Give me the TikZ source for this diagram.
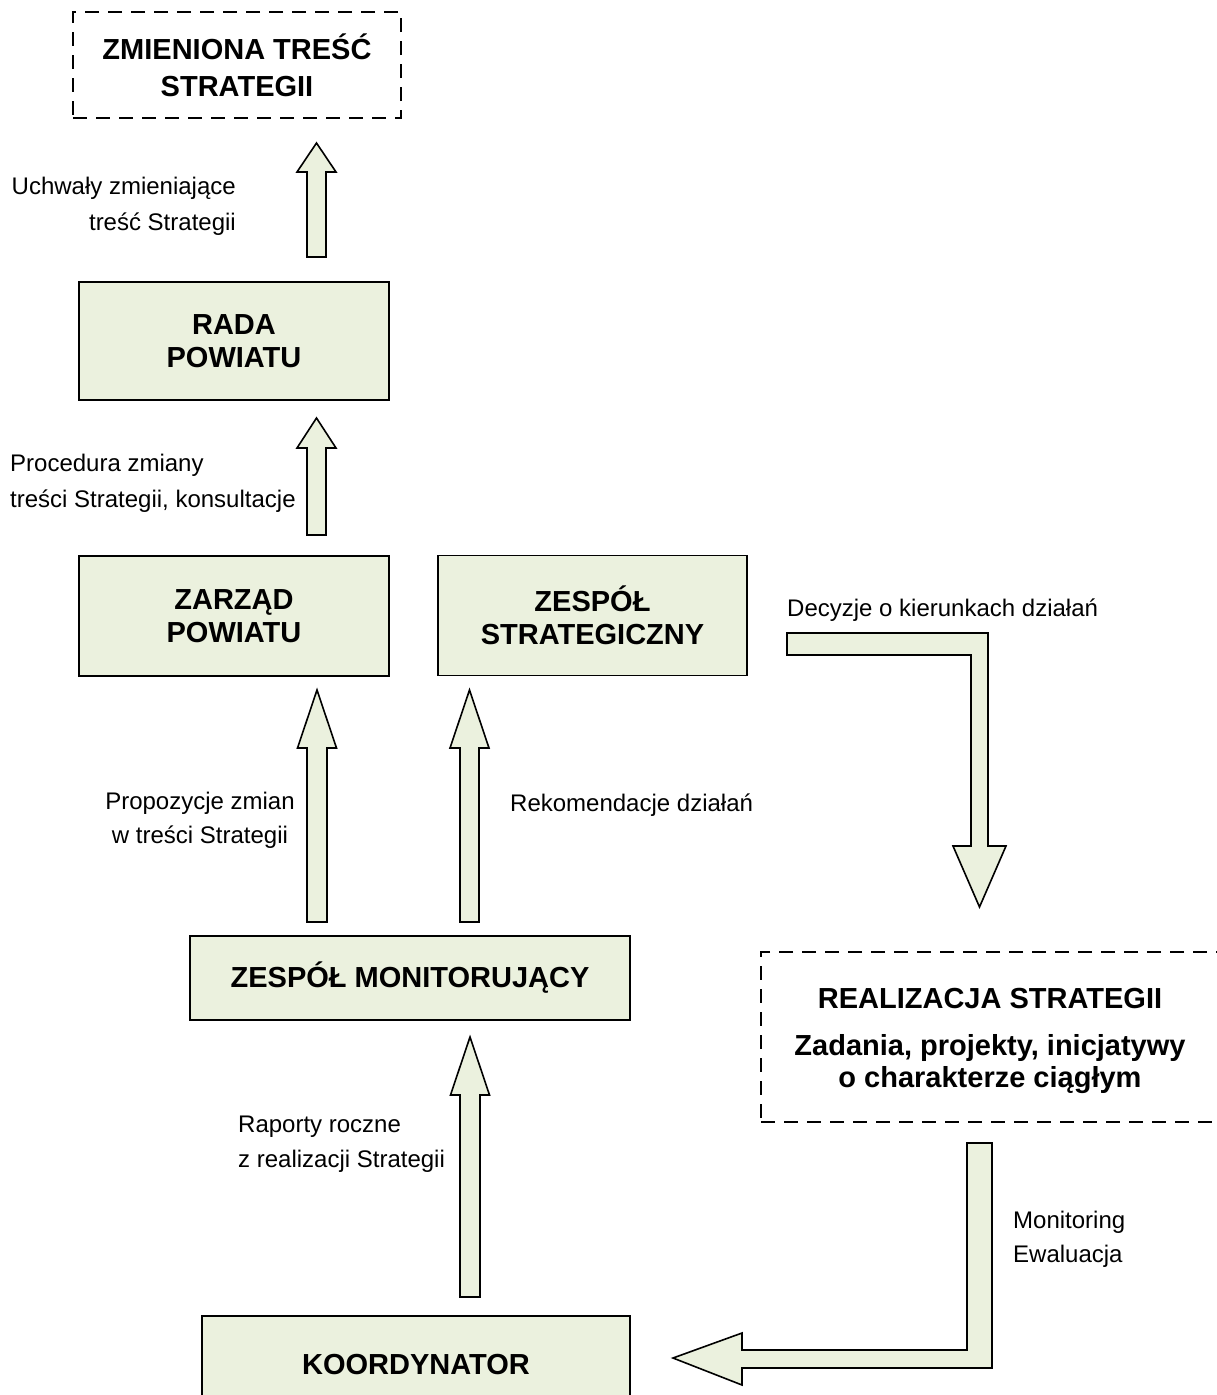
\documentclass[tikz,border=0pt]{standalone}
\usepackage{fontspec}
\setmainfont{Liberation Sans}
\definecolor{boxgreen}{HTML}{EBF1DE}
\newcommand\blockup[5]{% cx, half shaft, bottom, head base, tip
  \path[barrow] (#1-#2,#3) -- (#1-#2,#4) -- (#1-19.5,#4) -- (#1,#5) -- (#1+19.5,#4) -- (#1+#2,#4) -- (#1+#2,#3) -- cycle;}
\begin{document}
\begin{tikzpicture}[x=1pt,y=-1pt,
  gbox/.style={draw, line width=1.6pt, fill=boxgreen, inner sep=0pt, align=center,
    font=\bfseries\fontsize{29}{33}\selectfont},
  dbox/.style={draw, line width=1.6pt, dash pattern=on 14pt off 9pt, inner sep=0pt, align=center,
    font=\bfseries\fontsize{29}{33}\selectfont},
  lbl/.style={inner sep=0pt, font=\fontsize{24}{32}\selectfont},
  barrow/.style={draw, line width=1.6pt, fill=boxgreen, line join=miter}]
\useasboundingbox (0,0) rectangle (1217,1395);
\clip (0,0) rectangle (1217,1395);

% boxes
\node[dbox, minimum width=328pt, minimum height=106pt, font=\bfseries\fontsize{29}{37}\selectfont] (zmien) at (237,65) {ZMIENIONA TREŚĆ\\STRATEGII};
\node[gbox, minimum width=310pt, minimum height=118pt] (rada) at (234,341) {RADA\\POWIATU};
\node[gbox, minimum width=310pt, minimum height=120pt] (zarzad) at (234,616) {ZARZĄD\\POWIATU};
\node[gbox, minimum width=309pt, minimum height=120pt] (strat) at (592.5,615.5) {ZESPÓŁ\\STRATEGICZNY};
\node[gbox, minimum width=440pt, minimum height=84pt] (monit) at (410,978) {ZESPÓŁ MONITORUJĄCY};
\node[gbox, minimum width=428pt, minimum height=96pt] (koord) at (416,1364) {KOORDYNATOR};
\node[dbox, minimum width=460pt, minimum height=170pt] (real) at (991,1037) {};
\node[inner sep=0pt, align=center, font=\bfseries\fontsize{29}{32}\selectfont] (realtxt) at (990,1041)
  {REALIZACJA STRATEGII\\[15pt]Zadania, projekty, inicjatywy\\o charakterze ciągłym};

% straight block arrows
\blockup{316.5}{9.5}{257}{172}{143}
\blockup{316.5}{9.5}{535}{448}{418}
\blockup{317}{10}{922}{748}{690}
\blockup{469.5}{9.5}{922}{748}{690}
\blockup{470}{10}{1297}{1095}{1037}

% bent block arrows
\path[barrow] (787,633) -- (988,633) -- (988,846) -- (1006,846) -- (979.5,907) -- (953,846)
  -- (971,846) -- (971,655) -- (787,655) -- cycle;
\path[barrow] (967,1143) -- (992,1143) -- (992,1368) -- (742,1368) -- (742,1385) -- (673,1358)
  -- (742,1333) -- (742,1350) -- (967,1350) -- cycle;

% labels
\node[lbl, align=right, anchor=east, font=\fontsize{24}{36}\selectfont] (l1) at (236,206) {Uchwały zmieniające\\treść Strategii};
\node[lbl, align=left, anchor=west, font=\fontsize{24}{36}\selectfont] (l2) at (10,483) {Procedura zmiany\\treści Strategii, konsultacje};
\node[lbl, anchor=base west] (l3) at (787,616) {Decyzje o kierunkach działań};
\node[lbl, align=center, font=\fontsize{24}{34}\selectfont] (l4) at (200,820) {Propozycje zmian\\w treści Strategii};
\node[lbl, anchor=base west] (l5) at (510,811) {Rekomendacje działań};
\node[lbl, align=left, anchor=west, font=\fontsize{24}{35}\selectfont] (l6) at (238,1144) {Raporty roczne\\z realizacji Strategii};
\node[lbl, align=left, anchor=west, font=\fontsize{24}{34}\selectfont] (l7) at (1013,1239) {Monitoring\\Ewaluacja};
\end{tikzpicture}
\end{document}
